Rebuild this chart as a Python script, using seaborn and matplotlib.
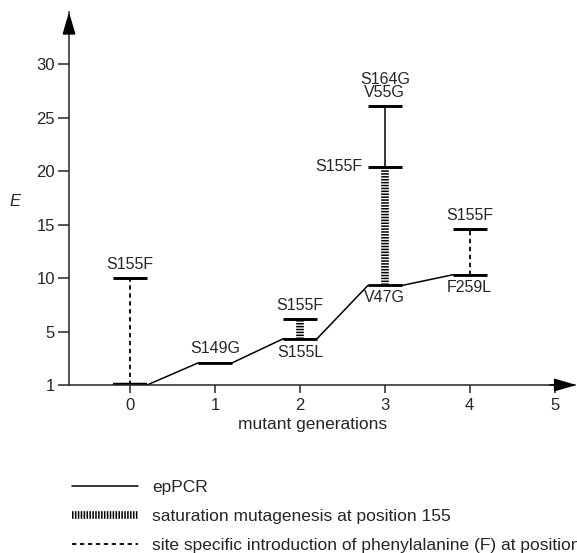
import matplotlib
matplotlib.use("Agg")
import matplotlib.pyplot as plt
from matplotlib.lines import Line2D
import seaborn as sns
import pandas as pd
import numpy as np

# === data ===
generations = [0, 1, 2, 3, 4]
plateau_E = [1.0, 2.65, 4.45, 9.3, 10.3]
plateau_labels = ["", "S149G", "S155L", "V47G", "F259L"]
plateau_halfwidth = [0.2, 0.2, 0.2, 0.2, 0.2]

# saturation mutagenesis at 155 (generation, E from, E to)
sat_gen = [2, 3]
sat_from = [4.45, 9.3]
sat_to = [6.2, 20.4]

# site specific introduction of F (generation, E from, E to)
site_gen = [0, 4]
site_from = [1.0, 10.3]
site_to = [10.0, 14.6]

# extra epPCR step above the saturation result
ep_gen = [3]
ep_from = [20.4]
ep_to = [26.1]

# caps with their labels
cap_gen = [0, 2, 3, 3, 4]
cap_E = [10.0, 6.2, 20.4, 26.1, 14.6]
cap_labels = ["S155F", "S155F", "S155F", "S164G\nV55G", "S155F"]
cap_label_side = ["top", "top", "left", "top", "top"]

y_ticks = [1, 5, 10, 15, 20, 25, 30]
x_ticks = [0, 1, 2, 3, 4, 5]
legend_labels = ["epPCR",
                 "saturation mutagenesis at position 155",
                 "site specific introduction of phenylalanine (F) at position 155"]


# the original axis gives the 1..5 step the same length as the other 5-steps
def fwd(e):
    e = np.asarray(e, dtype=float)
    return np.where(e < 5, (e - 1) * 1.25, e)


def inv(p):
    p = np.asarray(p, dtype=float)
    return np.where(p < 5, p * 0.8 + 1, p)


# === style ===
sns.set_style("ticks")
plt.rcParams["font.family"] = ["Liberation Sans", "DejaVu Sans"]
plt.rcParams["font.size"] = 11.5

sat_style = dict(color="black", lw=5.5, dashes=(0.2, 0.18), solid_capstyle="butt",
                 dash_capstyle="butt")
site_style = dict(color="black", lw=1.3, dashes=(2.4, 2.0))

fig = plt.figure(figsize=(5.77, 5.53), dpi=100)
ax = fig.add_axes([69 / 577, 1 - 385 / 553, (575 - 69) / 577, (385 - 12) / 553])
ax.set_yscale("function", functions=(fwd, inv))

# epPCR path through the plateaus
xs, ys = [], []
for g, e, hw in zip(generations, plateau_E, plateau_halfwidth):
    xs += [g - hw, g + hw]
    ys += [e, e]
path = pd.DataFrame({"gen": xs, "E": ys})
sns.lineplot(data=path, x="gen", y="E", sort=False, estimator=None, color="black",
             lw=1.1, ax=ax)

# thicker plateaus
for g, e, hw in zip(generations, plateau_E, plateau_halfwidth):
    ax.plot([g - hw, g + hw], [e, e], color="black", lw=3.2 if g == 0 else 2.0,
            solid_capstyle="butt")

for g, a, b in zip(sat_gen, sat_from, sat_to):
    ax.plot([g, g], [a, b], **sat_style)

for g, a, b in zip(site_gen, site_from, site_to):
    ax.plot([g, g], [a, b], **site_style)

for g, a, b in zip(ep_gen, ep_from, ep_to):
    ax.plot([g, g], [a, b], color="black", lw=1.1)

for g, e, lab, side in zip(cap_gen, cap_E, cap_labels, cap_label_side):
    ax.plot([g - 0.2, g + 0.2], [e, e], color="black", lw=2.1, solid_capstyle="butt")
    if side == "top":
        ax.text(g, e + 0.55, lab, ha="center", va="bottom", linespacing=0.85)
    else:
        ax.text(g - 0.27, e, lab, ha="right", va="center")

for g, e, lab in zip(generations, plateau_E, plateau_labels):
    if not lab:
        continue
    if g == 1:
        ax.text(g, e + 0.5, lab, ha="center", va="bottom")
    else:
        ax.text(g, e - 0.45, lab, ha="center", va="top")

# axes
ax.set_xlim(-0.72, 5.24)
ax.set_ylim(1, 34.86)
ax.set_xticks(x_ticks)
ax.set_yticks(y_ticks)
ax.set_yticklabels([str(t) for t in y_ticks])
ax.yaxis.set_minor_locator(matplotlib.ticker.NullLocator())
ax.tick_params(direction="out", width=1.1, labelsize=12)
ax.tick_params(axis="y", length=8, pad=2)
ax.tick_params(axis="x", length=6, pad=3)
sns.despine(ax=ax)
for s in ["left", "bottom"]:
    ax.spines[s].set_linewidth(1.1)
ax.patch.set_alpha(0)

arrow = dict(arrowstyle="-|>,head_length=1.2,head_width=0.35",
             color="black", lw=1.1, shrinkA=0, shrinkB=0)
ax.annotate("", xy=(1.003, 0), xytext=(0.95, 0), xycoords="axes fraction",
            arrowprops=arrow, annotation_clip=False)
ax.annotate("", xy=(0, 1.0), xytext=(0, 0.95), xycoords="axes fraction",
            arrowprops=arrow, annotation_clip=False)

ax.set_xlabel("mutant generations", fontsize=12.5)
ax.xaxis.set_label_coords(0.482, -0.087)
ax.set_ylabel("E", fontsize=12, style="italic", rotation=0, va="center", ha="center")
ax.yaxis.set_label_coords(-0.107, 0.493)

# the last entry runs off the right edge, as in the printed original
handles = [Line2D([], [], color="black", lw=1.1),
           Line2D([], [], **sat_style),
           Line2D([], [], **site_style)]
fig.legend(handles, legend_labels, loc="upper left", bbox_to_anchor=(72 / 577, 1 - 480 / 553),
           frameon=False, handlelength=3.8, handletextpad=0.8, labelspacing=0.79,
           borderpad=0, borderaxespad=0, fontsize=12.5)

fig.savefig("out.png", dpi=100)
